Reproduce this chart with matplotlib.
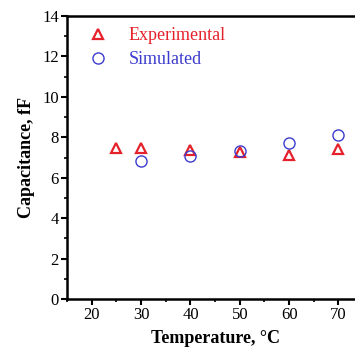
import matplotlib
matplotlib.use("Agg")
import matplotlib.pyplot as plt
from matplotlib.ticker import MultipleLocator

plt.rcParams["font.family"] = ["Liberation Serif", "DejaVu Serif"]

exp_temp = [25, 30, 40, 50, 60, 70]
exp_cap = [7.47, 7.47, 7.38, 7.28, 7.13, 7.43]

sim_temp = [30, 40, 50, 60, 70]
sim_cap = [6.83, 7.08, 7.33, 7.7, 8.13]

red = "#e5222b"
blue = "#3b3bcf"

fig = plt.figure(figsize=(3.55, 3.49), dpi=100)
ax = fig.add_axes([0.189, 0.143, 0.834, 0.811])

ax.plot(exp_temp, exp_cap, linestyle="none", marker="^", markersize=7,
        markerfacecolor="none", markeredgecolor=red, markeredgewidth=1.6,
        label="Experimental")
ax.plot(sim_temp, sim_cap, linestyle="none", marker="o", markersize=8,
        markerfacecolor="none", markeredgecolor=blue, markeredgewidth=1.0,
        label="Simulated")

ax.set_xlim(15, 75)
ax.set_ylim(0, 14)
ax.xaxis.set_major_locator(MultipleLocator(10))
ax.xaxis.set_minor_locator(MultipleLocator(5))
ax.yaxis.set_major_locator(MultipleLocator(2))
ax.yaxis.set_minor_locator(MultipleLocator(1))

for side in ["left", "bottom", "top", "right"]:
    ax.spines[side].set_linewidth(1.8)

ax.tick_params(which="major", direction="out", length=4, width=1.5,
               labelsize=12, top=False, right=False, pad=2)
ax.tick_params(which="minor", direction="out", length=2.5, width=1.2,
               top=False, right=False)

ax.set_xlabel("Temperature, °C", fontsize=13, fontweight="bold",
              labelpad=5)
ax.set_ylabel("Capacitance, fF", fontsize=13, fontweight="bold", labelpad=5)

leg = ax.legend(loc="upper left", frameon=False, fontsize=13,
                handletextpad=0.6, borderaxespad=0.3, borderpad=0.3,
                labelspacing=0.4, handlelength=2.2)
for text, color in zip(leg.get_texts(), [red, blue]):
    text.set_color(color)

fig.savefig("out.png", dpi=100)
